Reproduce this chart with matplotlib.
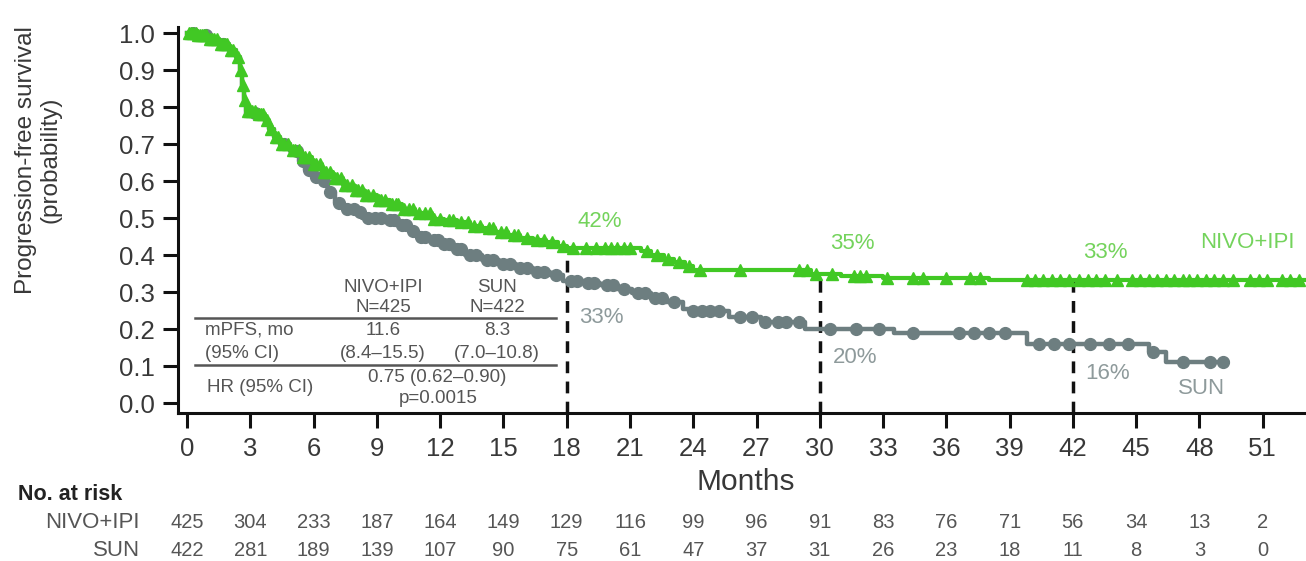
import numpy as np
import matplotlib.pyplot as plt
from matplotlib.transforms import blended_transform_factory

plt.rcParams['font.family'] = ['Liberation Sans', 'DejaVu Sans']

# Kaplan-Meier steps: (month, survival after the step)
nivo_t = [0, 0.5, 1.0, 1.5, 2.0, 2.3, 2.5, 2.6, 2.7, 2.8, 3.3, 3.7, 3.9, 4.1, 4.4, 4.9,
          5.4, 5.9, 6.4, 6.9, 7.4, 7.9, 8.4, 9.0, 9.6, 10.2, 10.8, 11.6, 12.2, 12.8, 13.4,
          14.0, 14.6, 15.2, 15.8, 16.4, 17.0, 17.6, 18.0, 21.5, 22.0, 22.6, 23.1, 23.6,
          24.0, 29.6, 31.0, 33.0, 38.0, 53.1]
nivo_s = [1.0, 0.995, 0.985, 0.97, 0.955, 0.935, 0.90, 0.86, 0.82, 0.79, 0.78, 0.765, 0.74,
          0.72, 0.70, 0.685, 0.665, 0.645, 0.625, 0.607, 0.59, 0.577, 0.563, 0.55, 0.538,
          0.525, 0.513, 0.498, 0.494, 0.488, 0.478, 0.472, 0.462, 0.455, 0.447, 0.44, 0.435,
          0.425, 0.42, 0.41, 0.40, 0.39, 0.38, 0.37, 0.36, 0.35, 0.343, 0.338, 0.333, 0.333]

sun_t = [0, 0.5, 1.0, 1.5, 2.0, 2.3, 2.5, 2.6, 2.7, 2.8, 3.3, 3.7, 3.9, 4.1, 4.4, 4.9,
         5.3, 5.6, 5.9, 6.3, 6.7, 7.0, 7.4, 8.0, 8.3, 9.3, 9.9, 10.5, 10.9, 11.5, 12.0,
         12.5, 13.2, 14.0, 14.8, 15.6, 16.4, 17.2, 17.8, 18.8, 19.6, 20.4, 21.1, 22.0,
         22.7, 23.5, 23.8, 25.7, 27.2, 29.3, 33.5, 39.8, 45.6, 46.4, 49.3]
sun_s = [1.0, 0.995, 0.985, 0.97, 0.955, 0.935, 0.90, 0.86, 0.82, 0.785, 0.775, 0.76, 0.74,
         0.72, 0.70, 0.68, 0.655, 0.63, 0.61, 0.60, 0.57, 0.54, 0.525, 0.515, 0.50, 0.495,
         0.48, 0.465, 0.45, 0.44, 0.43, 0.415, 0.40, 0.386, 0.375, 0.365, 0.355, 0.345,
         0.33, 0.325, 0.318, 0.308, 0.297, 0.285, 0.273, 0.255, 0.25, 0.233, 0.22, 0.20,
         0.19, 0.16, 0.138, 0.11, 0.11]

# censoring times
nivo_cens = [0.1, 0.2, 0.3, 0.4, 0.5, 0.6, 0.7, 0.8, 0.9, 1.1, 1.2, 1.3, 1.4, 1.6, 1.7,
             1.8, 1.9, 2.1, 2.2, 2.4, 2.55, 2.65, 2.75, 2.9, 3.0, 3.1, 3.2, 3.4, 3.5, 3.6,
             3.8, 4.0, 4.2, 4.3, 4.5, 4.6, 4.8, 5.0, 5.1, 5.3, 5.5, 5.6, 5.8, 6.0, 6.1,
             6.3, 6.5, 6.6, 6.8, 7.0, 7.1, 7.3, 7.5, 7.6, 7.8, 8.0, 8.1, 8.3, 8.5, 8.6,
             8.8, 9.1, 9.2, 9.4, 9.7, 9.9, 10.0, 10.3, 10.5, 10.7, 11.0, 11.3, 11.5, 11.7,
             12.0, 12.4, 12.6, 13.0, 13.3, 13.6, 13.9, 14.3, 14.5, 14.9, 15.1, 15.5, 15.7,
             16.1, 16.6, 16.9, 17.3, 17.8, 18.3, 18.9, 19.4, 19.8, 20.1, 20.4, 20.7, 21.0,
             21.8, 22.3, 22.8, 23.3, 23.8, 24.3, 26.2, 29.0, 29.4, 29.8, 30.6, 31.6, 31.9,
             32.2, 33.2, 34.4, 34.9, 36.0, 37.1, 37.6, 39.8, 40.2, 40.6, 41.0, 41.4, 41.8,
             42.3, 42.7, 43.1, 43.5, 44.1, 44.8, 45.2, 45.6, 46.0, 46.4, 46.8, 47.2, 47.5,
             47.9, 48.3, 48.7, 49.1, 49.6, 50.4, 50.8, 51.2, 51.9, 52.3, 52.7]
sun_cens = [0.3, 0.9, 1.7, 3.2, 4.6, 5.2, 5.5, 5.8, 6.1, 6.5, 6.8, 7.2, 7.6, 7.9, 8.2, 8.6,
            8.9, 9.2, 9.6, 9.8, 10.2, 10.4, 10.7, 11.1, 11.3, 11.7, 11.9, 12.2, 12.4, 12.8,
            13.0, 13.4, 13.7, 14.2, 14.5, 15.0, 15.3, 15.8, 16.1, 16.6, 16.9, 17.5, 18.2,
            18.5, 19.0, 19.3, 19.9, 20.2, 20.7, 21.4, 21.7, 22.2, 22.5, 23.1, 24.0, 24.4,
            24.8, 25.2, 26.2, 26.8, 27.4, 28.0, 28.4, 29.0, 30.5, 31.7, 32.8, 34.4, 36.6,
            37.3, 38.0, 38.8, 40.4, 41.1, 41.8, 42.8, 43.7, 44.6, 45.8, 47.2, 48.5, 49.1]

landmarks = [18, 30, 42]
nivo_pct = [42, 35, 33]
sun_pct = [33, 20, 16]

risk_months = list(range(0, 52, 3))
nivo_risk = [425, 304, 233, 187, 164, 149, 129, 116, 99, 96, 91, 83, 76, 71, 56, 34, 13, 2]
sun_risk = [422, 281, 189, 139, 107, 90, 75, 61, 47, 37, 31, 26, 23, 18, 11, 8, 3, 0]

GREEN = '#41c824'
GREEN_TXT = '#74d35c'
GRAY = '#6d7e80'
GRAY_TXT = '#8e9a9b'
DARK = '#383838'
YMIN, YMAX = -0.027, 1.015


def surv_at(t, times, surv):
    idx = np.searchsorted(times, t, side='right') - 1
    return np.asarray(surv)[idx]


fig = plt.figure(figsize=(13.06, 5.61), dpi=100)
top_px = 403 - YMAX * 370
ax = fig.add_axes([178 / 1306, 1 - 413 / 561, 1128 / 1306, (413 - top_px) / 561])

# dashed landmark lines
for m, p in zip(landmarks, nivo_pct):
    ax.plot([m, m], [YMIN, p / 100], color='#111111', lw=2.5,
            linestyle=(0, (3.4, 2.4)), zorder=1)

ax.step(sun_t, sun_s, where='post', color=GRAY, lw=3.2, zorder=2)
ax.plot(sun_cens, surv_at(sun_cens, sun_t, sun_s), 'o', color=GRAY, ms=8.5,
        mec=GRAY, zorder=2)
ax.step(nivo_t, nivo_s, where='post', color=GREEN, lw=3.0, zorder=3)
ax.plot(nivo_cens, surv_at(nivo_cens, nivo_t, nivo_s), '^', color=GREEN, ms=8.5,
        mec=GREEN, zorder=3)

# landmark percentages
nivo_dy = [0.07, 0.082, 0.078]
sun_dy = [-0.10, -0.076, -0.079]
for m, p, dy in zip(landmarks, nivo_pct, nivo_dy):
    ax.text(m + 0.5, p / 100 + dy, f'{p}%', color=GREEN_TXT, fontsize=16,
            ha='left', va='center')
for m, p, dy in zip(landmarks, sun_pct, sun_dy):
    ax.text(m + 0.6, p / 100 + dy, f'{p}%', color=GRAY_TXT, fontsize=16,
            ha='left', va='center')
ax.text(52.5, 0.435, 'NIVO+IPI', color=GREEN_TXT, fontsize=16, ha='right', va='center')
ax.text(48.1, 0.04, 'SUN', color=GRAY_TXT, fontsize=16, ha='center', va='center')

# inset summary table
tfs = 13.5
tc = '#555555'
ax.text(9.3, 0.313, 'NIVO+IPI', fontsize=tfs, color=tc, ha='center', va='center')
ax.text(9.3, 0.257, 'N=425', fontsize=tfs, color=tc, ha='center', va='center')
ax.text(14.7, 0.313, 'SUN', fontsize=tfs, color=tc, ha='center', va='center')
ax.text(14.7, 0.257, 'N=422', fontsize=tfs, color=tc, ha='center', va='center')
ax.plot([0.38, 17.5], [0.23, 0.23], color='#555555', lw=1.8)
ax.text(0.85, 0.197, 'mPFS, mo', fontsize=tfs, color=tc, ha='left', va='center')
ax.text(0.85, 0.135, '(95% CI)', fontsize=tfs, color=tc, ha='left', va='center')
ax.text(9.3, 0.197, '11.6', fontsize=tfs, color=tc, ha='center', va='center')
ax.text(14.7, 0.197, '8.3', fontsize=tfs, color=tc, ha='center', va='center')
ax.text(9.3, 0.135, '(8.4–15.5)', fontsize=tfs, color=tc, ha='center', va='center')
ax.text(14.7, 0.135, '(7.0–10.8)', fontsize=tfs, color=tc, ha='center', va='center')
ax.plot([0.38, 17.5], [0.103, 0.103], color='#555555', lw=1.8)
ax.text(0.95, 0.043, 'HR (95% CI)', fontsize=tfs, color=tc, ha='left', va='center')
ax.text(11.85, 0.068, '0.75 (0.62–0.90)', fontsize=tfs, color=tc, ha='center', va='center')
ax.text(11.9, 0.0135, 'p=0.0015', fontsize=tfs, color=tc, ha='center', va='center')

ax.set_xlim(-0.43, 53.05)
ax.set_ylim(YMIN, YMAX)
ax.set_xticks(risk_months)
ax.set_yticks(np.arange(0, 1.01, 0.1))
ax.set_yticklabels([f'{v:.1f}' for v in np.arange(0, 1.01, 0.1)])
ax.tick_params(axis='both', direction='out', length=11, width=2.2, color='#111111',
               labelsize=18.5, labelcolor=DARK, pad=6)
for side in ('top', 'right'):
    ax.spines[side].set_visible(False)
for side in ('left', 'bottom'):
    ax.spines[side].set_linewidth(2.2)
    ax.spines[side].set_color('#111111')

ax.set_xlabel('Months', fontsize=21.5, color=DARK)
ax.xaxis.set_label_coords((746 - 178) / 1128, (413 - 468) / (413 - top_px))
fig.text(38 / 1306, 1 - 160 / 561, 'Progression-free survival\n(probability)',
         rotation=90, ha='center', va='center', fontsize=17.5, color=DARK,
         multialignment='center', linespacing=1.15)

# number at risk
tr = blended_transform_factory(ax.transData, fig.transFigure)
fig.text(18 / 1306, 1 - 494 / 561, 'No. at risk', fontsize=15.5, fontweight='bold',
         color='#222222', ha='left', va='center')
fig.text(140 / 1306, 1 - 522 / 561, 'NIVO+IPI', fontsize=16, color='#555555',
         ha='right', va='center')
fig.text(140 / 1306, 1 - 550 / 561, 'SUN', fontsize=16, color='#555555',
         ha='right', va='center')
for m, a, b in zip(risk_months, nivo_risk, sun_risk):
    ax.text(m, 1 - 522 / 561, str(a), transform=tr, fontsize=14.5, color='#555555',
            ha='center', va='center')
    ax.text(m, 1 - 550 / 561, str(b), transform=tr, fontsize=14.5, color='#555555',
            ha='center', va='center')

fig.savefig('out.png', dpi=100)
